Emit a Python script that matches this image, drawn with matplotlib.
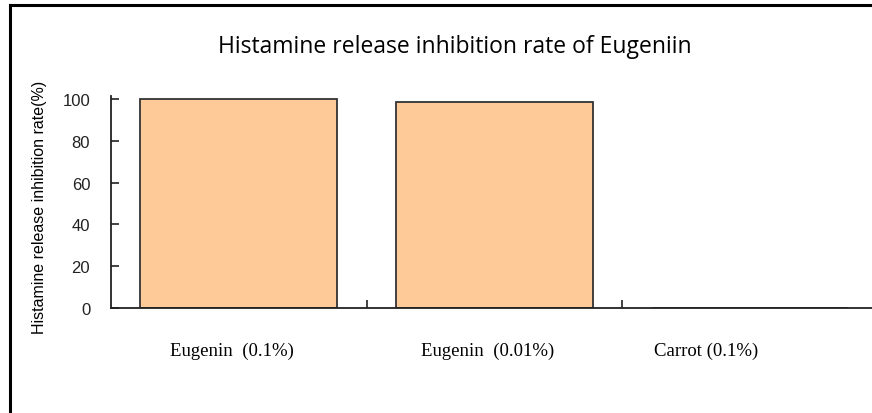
import matplotlib.pyplot as plt
import matplotlib.transforms as mtransforms
from matplotlib.lines import Line2D

categories = ["Eugenin  (0.1%)", "Eugenin  (0.01%)", "Carrot (0.1%)"]
rates = [100, 98.4, 0]
y_ticks = [0, 20, 40, 60, 80, 100]

fig = plt.figure(figsize=(8.72, 4.14), dpi=100)
ax = fig.add_axes([111 / 872, 105 / 414, 1 - 111 / 872, 212 / 414])

x = list(range(len(categories)))
ax.bar(x, rates, width=0.77, color="#FECA98", edgecolor="#333333", linewidth=1.3)

ax.set_xlim(-0.5, 2.477)
ax.set_ylim(0, 101.4)

for side in ["top", "right"]:
    ax.spines[side].set_visible(False)
for side in ["left", "bottom"]:
    ax.spines[side].set_linewidth(1.3)
    ax.spines[side].set_color("#222222")

ax.set_yticks(y_ticks)
ax.set_yticklabels([str(v) for v in y_ticks], fontfamily="Liberation Sans", fontsize=12)
ax.tick_params(axis="y", direction="in", length=6, width=1.2, pad=15, colors="#222222")

ax.set_xticks(x)
ax.set_xticklabels(categories, fontfamily="Liberation Serif", fontsize=13.5)
ax.set_xticks([0.5, 1.5], minor=True)
ax.tick_params(axis="x", which="major", length=0, pad=24)
ax.tick_params(axis="x", which="minor", direction="in", length=6, width=1.2, colors="#222222")

# the labels in the original sit a little left of the bar centres
label_shift = [-7, -7, -44]
for lab, dx in zip(ax.get_xticklabels(), label_shift):
    lab.set_transform(lab.get_transform() + mtransforms.ScaledTranslation(dx / 100, 0, fig.dpi_scale_trans))

ax.set_ylabel("Histamine release inhibition rate(%)", fontfamily="Liberation Sans", fontsize=11.5)
ax.yaxis.set_label_coords(-64 / 761, 0.48)

fig.text(455 / 872, 1 - 47 / 414, "Histamine release inhibition rate of Eugeniin",
         ha="center", va="center", fontfamily="Open Sans", fontsize=16.5)

# frame lines around the figure (top and left only are visible)
fig.add_artist(Line2D([9.5 / 872, 1], [1 - 6 / 414, 1 - 6 / 414], color="black", linewidth=2.2))
fig.add_artist(Line2D([9.5 / 872, 9.5 / 872], [0, 1 - 6 / 414], color="black", linewidth=2.2))

fig.savefig("out.png", dpi=100)
